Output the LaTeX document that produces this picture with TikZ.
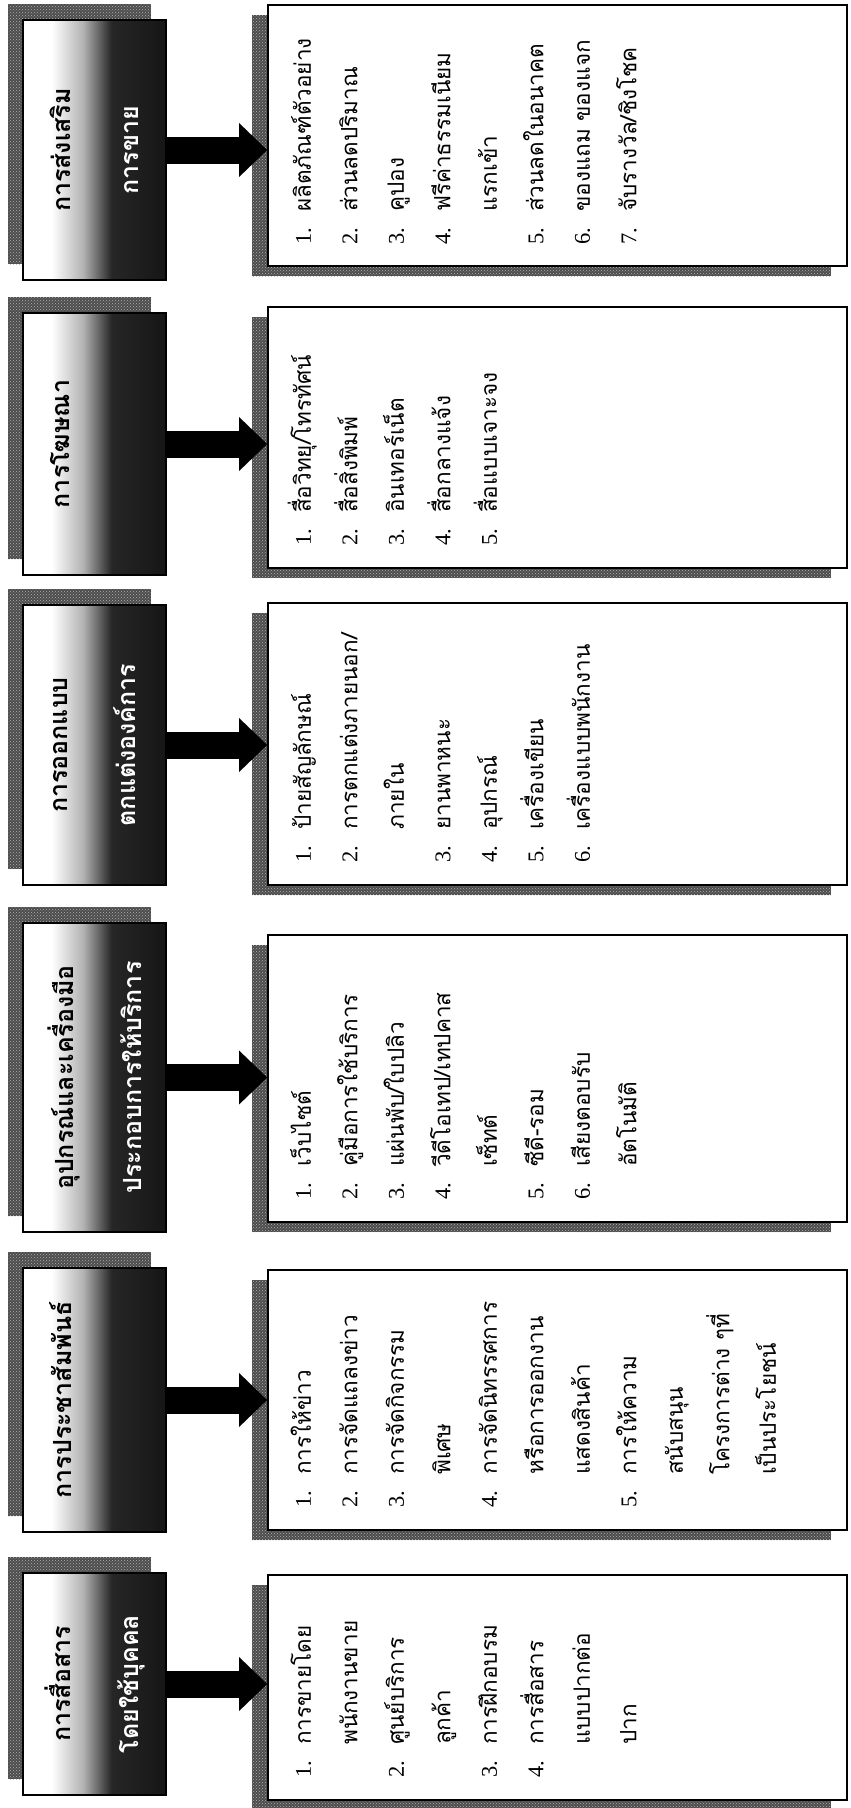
\documentclass[tikz,border=0pt]{standalone}
\usepackage{fontspec}
\newfontfamily\thai[Script=Thai]{Loma}
\newfontfamily\numfont{Liberation Serif}
\usetikzlibrary{arrows.meta,patterns}
\pgfdeclarehorizontalshading{hdrfade}{100bp}{color(0bp)=(white); color(35bp)=(white); color(46bp)=(gray!60); color(56bp)=(black!85); color(100bp)=(black)}
\newcommand{\itm}[1]{{\numfont #1.}}

\begin{document}
\begin{tikzpicture}[x=1pt, y=-1pt,
  shadowfill/.style={fill=black!70, postaction={pattern=crosshatch dots, pattern color=white!70!black}},
  hdrbox/.style={draw=black, line width=1.6pt, shade, shading=hdrfade, inner sep=0pt, minimum width=143pt},
  listbox/.style={draw=black, line width=1.6pt, fill=white, inner sep=0pt, minimum width=579pt},
  hdrtext/.style={rotate=90, inner sep=0pt, align=center, font=\thai\bfseries\fontsize{25}{68}\selectfont},
  listtext/.style={rotate=90, anchor=north west, inner sep=0pt, font=\thai\fontsize{22.5}{46.5}\selectfont},
  bigarrow/.style={line width=27pt, -{Triangle[width=52pt, length=28pt]}}]
\useasboundingbox (0,0) rectangle (851,1808);

% header boxes and list boxes, bottom (1) to top (6)
\foreach \n/\ya/\yb/\ca/\cb in {1/1573/1795/1575/1800, 2/1268/1532/1270/1530,
    3/923/1232/935/1222, 4/605/885/603/885, 5/313/575/307/568, 6/20/280/5/266} {
  \pgfmathsetmacro\hh{\yb-\ya}
  \pgfmathsetmacro\ch{\cb-\ca}
  \fill[shadowfill] (8,\ya-16) rectangle (151,\yb-16);
  \node[hdrbox, minimum height=\hh pt] (h\n) at (94.5,{(\ya+\yb)/2}) {};
  \fill[shadowfill] (252,\ca+10) rectangle (831,\cb+10);
  \node[listbox, minimum height=\ch pt] (c\n) at (557.5,{(\ca+\cb)/2}) {};
  \draw[bigarrow] (h\n.east) -- (h\n.east -| c\n.west);
}

% header texts
\node[hdrtext] at (h1) {การสื่อสาร\\\textcolor{white}{โดยใช้บุคคล}};
\node[hdrtext] at ([xshift=-34pt]h2.center) {การประชาสัมพันธ์};
\node[hdrtext] at (h3) {อุปกรณ์และเครื่องมือ\\\textcolor{white}{ประกอบการให้บริการ}};
\node[hdrtext] at (h4) {การออกแบบ\\\textcolor{white}{ตกแต่งองค์การ}};
\node[hdrtext] at ([xshift=-34pt]h5.center) {การโฆษณา};
\node[hdrtext] at (h6) {การส่งเสริม\\\textcolor{white}{การขาย}};

% list texts
\node[listtext] (t1) at (278,1778) {\begin{tabular}{@{}p{33pt}@{}l@{}}
\itm1 & การขายโดย\\
      & พนักงานขาย\\
\itm2 & ศูนย์บริการ\\
      & ลูกค้า\\
\itm3 & การฝึกอบรม\\
\itm4 & การสื่อสาร\\
      & แบบปากต่อ\\
      & ปาก
\end{tabular}};
\node[listtext] (t2) at (278,1508) {\begin{tabular}{@{}p{33pt}@{}l@{}}
\itm1 & การให้ข่าว\\
\itm2 & การจัดแถลงข่าว\\
\itm3 & การจัดกิจกรรม\\
      & พิเศษ\\
\itm4 & การจัดนิทรรศการ\\
      & หรือการออกงาน\\
      & แสดงสินค้า\\
\itm5 & การให้ความ\\
      & สนับสนุน\\
      & โครงการต่าง ๆที่\\
      & เป็นประโยชน์
\end{tabular}};
\node[listtext] (t3) at (278,1200) {\begin{tabular}{@{}p{33pt}@{}l@{}}
\itm1 & เว็บไซต์\\
\itm2 & คู่มือการใช้บริการ\\
\itm3 & แผ่นพับ/ใบปลิว\\
\itm4 & วีดีโอเทป/เทปคาส\\
      & เซ็ทต์\\
\itm5 & ซีดี-รอม\\
\itm6 & เสียงตอบรับ\\
      & อัตโนมัติ
\end{tabular}};
\node[listtext] (t4) at (278,863) {\begin{tabular}{@{}p{33pt}@{}l@{}}
\itm1 & ป้ายสัญลักษณ์\\
\itm2 & การตกแต่งภายนอก/\\
      & ภายใน\\
\itm3 & ยานพาหนะ\\
\itm4 & อุปกรณ์\\
\itm5 & เครื่องเขียน\\
\itm6 & เครื่องแบบพนักงาน
\end{tabular}};
\node[listtext] (t5) at (278,546) {\begin{tabular}{@{}p{33pt}@{}l@{}}
\itm1 & สื่อวิทยุ/โทรทัศน์\\
\itm2 & สื่อสิ่งพิมพ์\\
\itm3 & อินเทอร์เน็ต\\
\itm4 & สื่อกลางแจ้ง\\
\itm5 & สื่อแบบเจาะจง
\end{tabular}};
\node[listtext] (t6) at (278,245) {\begin{tabular}{@{}p{33pt}@{}l@{}}
\itm1 & ผลิตภัณฑ์ตัวอย่าง\\
\itm2 & ส่วนลดปริมาณ\\
\itm3 & คูปอง\\
\itm4 & ฟรีค่าธรรมเนียม\\
      & แรกเข้า\\
\itm5 & ส่วนลดในอนาคต\\
\itm6 & ของแถม ของแจก\\
\itm7 & จับรางวัล/ชิงโชค
\end{tabular}};
\end{tikzpicture}
\end{document}
